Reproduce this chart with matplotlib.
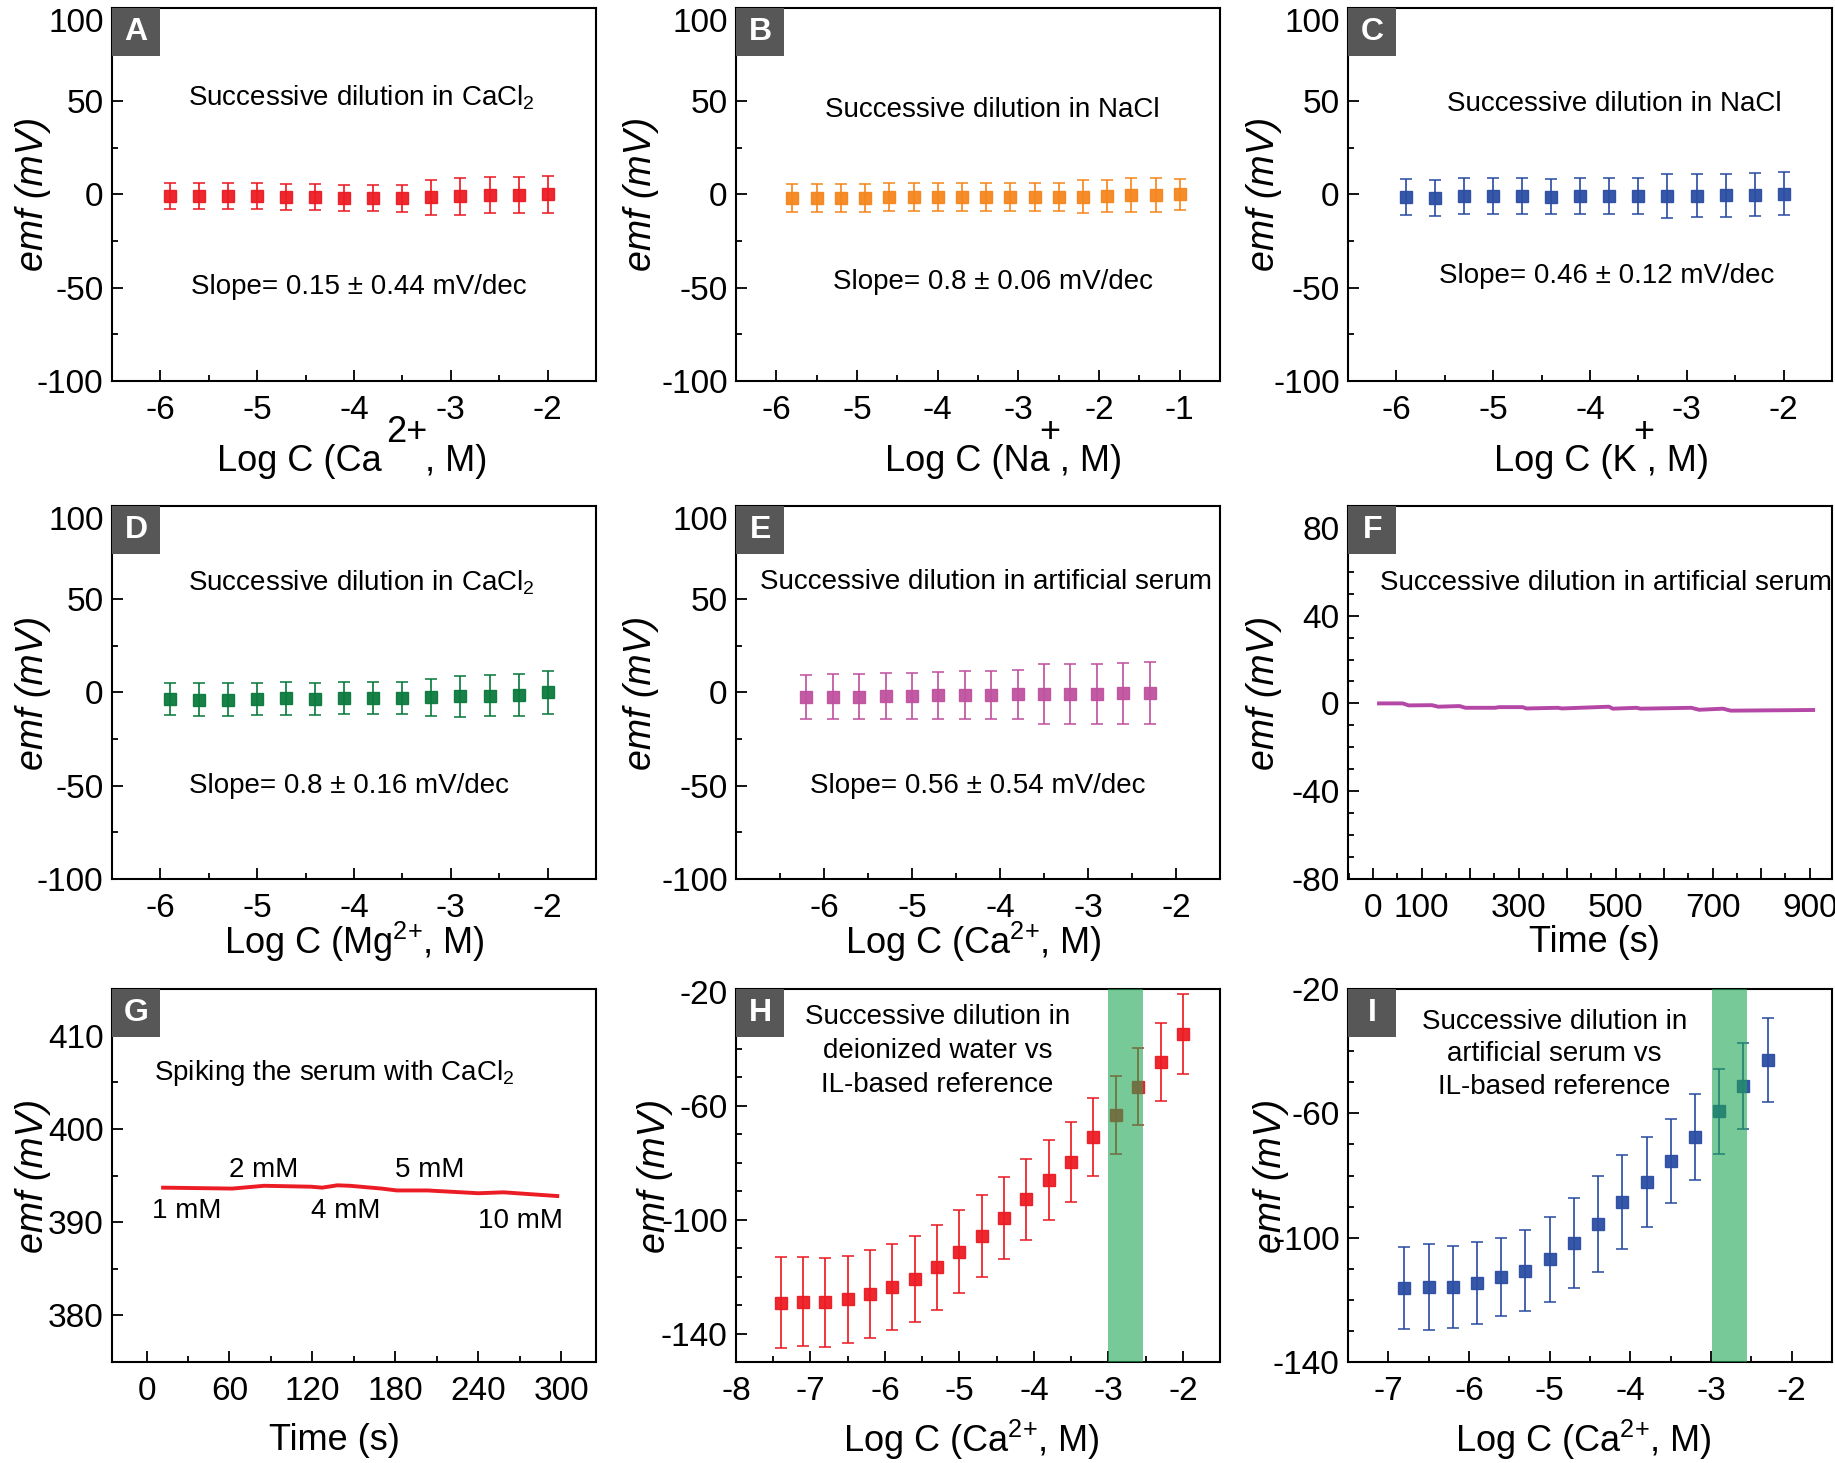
import matplotlib.pyplot as plt
from matplotlib.patches import Rectangle
from matplotlib.ticker import MultipleLocator

plt.rcParams['font.family'] = ['Liberation Sans', 'DejaVu Sans']
plt.rcParams['mathtext.fontset'] = 'custom'
plt.rcParams['mathtext.rm'] = 'Liberation Sans'
plt.rcParams['mathtext.it'] = 'Liberation Sans:italic'
plt.rcParams['mathtext.default'] = 'regular'
plt.rcParams['axes.unicode_minus'] = False
NOTE = 20  # size of the in-plot notes

# ---- data ----
A_x = [-5.9, -5.6, -5.3, -5.0, -4.7, -4.4, -4.1, -3.8, -3.5, -3.2, -2.9, -2.6, -2.3, -2.0]
A_y = [-0.9, -1.0, -1.0, -1.0, -1.2, -1.4, -1.8, -1.8, -2.0, -1.6, -1.1, -0.5, -0.4, 0.0]
A_err = [7.0, 7.0, 7.0, 7.0, 7.0, 7.2, 7.0, 7.0, 7.2, 9.5, 9.7, 9.7, 9.8, 9.8]

B_x = [-5.8, -5.5, -5.2, -4.9, -4.6, -4.3, -4.0, -3.7, -3.4, -3.1, -2.8, -2.5, -2.2, -1.9, -1.6, -1.3, -1.0]
B_y = [-1.8, -1.8, -1.8, -1.8, -1.4, -1.2, -1.4, -1.6, -1.2, -1.6, -1.6, -1.2, -1.2, -1.0, -0.4, -0.2, 0.0]
B_err = [7.5, 7.5, 7.5, 7.5, 7.5, 7.5, 7.5, 7.5, 7.5, 7.5, 7.5, 7.5, 9.0, 8.5, 9.0, 9.2, 8.3]

C_x = [-5.9, -5.6, -5.3, -5.0, -4.7, -4.4, -4.1, -3.8, -3.5, -3.2, -2.9, -2.6, -2.3, -2.0]
C_y = [-1.4, -1.8, -0.9, -0.9, -0.9, -1.2, -0.9, -0.9, -0.9, -0.9, -0.7, -0.5, -0.2, 0.3]
C_err = [9.5, 9.5, 9.5, 9.5, 9.5, 9.5, 9.5, 9.5, 9.5, 11.6, 11.6, 11.6, 11.5, 11.5]

D_x = [-5.9, -5.6, -5.3, -5.0, -4.7, -4.4, -4.1, -3.8, -3.5, -3.2, -2.9, -2.6, -2.3, -2.0]
D_y = [-3.6, -3.8, -3.9, -3.4, -3.2, -3.4, -3.0, -2.9, -3.0, -2.7, -2.0, -1.8, -1.3, 0.0]
D_err = [8.7, 8.7, 8.7, 8.7, 8.7, 8.7, 8.7, 8.7, 8.7, 9.9, 11.0, 11.0, 11.2, 11.4]

E_x = [-6.2, -5.9, -5.6, -5.3, -5.0, -4.7, -4.4, -4.1, -3.8, -3.5, -3.2, -2.9, -2.6, -2.3]
E_y = [-2.5, -2.3, -2.2, -2.0, -1.8, -1.6, -1.4, -1.3, -1.1, -0.9, -0.7, -0.7, -0.5, -0.2]
E_err = [12.0, 12.0, 12.2, 12.2, 12.4, 12.6, 12.8, 13.0, 13.2, 16.0, 16.0, 16.2, 16.3, 16.5]

F_t = [12, 61, 73, 121, 134, 178, 190, 251, 259, 308, 316, 381, 389, 486, 494, 543, 551, 656, 672, 721, 737, 907]
F_y = [0.0, 0.0, -0.9, -0.8, -1.5, -1.2, -2.0, -2.0, -1.7, -1.7, -2.3, -2.0, -2.3, -1.5, -2.4, -2.0, -2.4, -2.0, -2.9, -2.4, -3.3, -3.0]

G_t = [12, 62, 85, 119, 127, 138, 147, 170, 181, 203, 240, 258, 297]
G_y = [393.7, 393.6, 393.9, 393.8, 393.7, 393.95, 393.9, 393.6, 393.4, 393.4, 393.1, 393.2, 392.8]
G_notes = ['1 mM', '2 mM', '4 mM', '5 mM', '10 mM']
G_note_t = [29, 85, 144, 205, 270]
G_note_y = [391.2, 395.6, 391.2, 395.6, 390.1]

H_x = [-7.4, -7.1, -6.8, -6.5, -6.2, -5.9, -5.6, -5.3, -5.0, -4.7, -4.4, -4.1, -3.8, -3.5, -3.2, -2.9, -2.6, -2.3, -2.0]
H_y = [-129.1, -128.8, -129.0, -128.0, -126.1, -123.8, -120.9, -116.7, -111.2, -105.8, -99.4, -92.9,
       -86.2, -79.7, -71.0, -63.2, -53.3, -44.6, -34.7]
H_err = [15.9, 15.6, 15.7, 15.4, 15.3, 15.1, 15.0, 14.9, 14.7, 14.5, 14.4, 14.2, 14.0, 14.0, 13.8, 13.7, 13.5, 13.6, 14.0]
H_band = (-3.0, -2.53)

I_x = [-6.8, -6.5, -6.2, -5.9, -5.6, -5.3, -5.0, -4.7, -4.4, -4.1, -3.8, -3.5, -3.2, -2.9, -2.6, -2.3]
I_y = [-116.3, -115.8, -115.8, -114.6, -112.7, -110.6, -106.9, -101.6, -95.5, -88.5, -82.0, -75.3,
       -67.6, -59.4, -51.1, -42.8]
I_err = [13.2, 13.9, 13.1, 13.1, 12.5, 13.1, 13.7, 14.5, 15.4, 15.0, 14.4, 13.6, 13.8, 13.8, 13.8, 13.5]
I_band = (-2.99, -2.55)

RED = '#ec1c24'
ORANGE = '#f5871f'
BLUE = '#2c4ea3'
GREEN = '#0b7a3e'
MAGENTA = '#c0529f'
PURPLE = '#b548a6'
BAND = '#1fa653'

fig = plt.figure(figsize=(18.35, 14.63), dpi=100)
cols = [0.061, 0.4011, 0.7346]
rows = [0.7396, 0.3992, 0.069]
W = 0.2638
Hh = 0.255


def make_ax(r, c, letter, ylab_x):
    ax = fig.add_axes([cols[c], rows[r], W, Hh])
    for s in ax.spines.values():
        s.set_linewidth(1.5)
    ax.tick_params(which='both', direction='in', top=False, right=False, labelsize=24, width=1.3)
    ax.tick_params(which='major', length=8)
    ax.tick_params(which='minor', length=4)
    ax.tick_params(axis='x', pad=10)
    ax.tick_params(axis='y', pad=6)
    ax.add_patch(Rectangle((0, 1 - 0.13), 0.1, 0.13, transform=ax.transAxes,
                           facecolor='#575757', edgecolor='none', zorder=5, clip_on=False))
    ax.text(0.05, 1 - 0.065, letter, transform=ax.transAxes, ha='center', va='center',
            color='white', fontsize=23, fontweight='bold', zorder=6)
    ax.set_ylabel('emf (mV)', fontsize=27, style='italic', va='center')
    ax.yaxis.set_label_coords(ylab_x, 0.5)
    return ax


def xlabel(ax, text, x, y):
    ax.set_xlabel(text, fontsize=26, va='center')
    ax.xaxis.set_label_coords(x, y)


def note(ax, x, y, text, **kw):
    ax.text(x, y, text, transform=ax.get_yaxis_transform(), ha='center', va='center',
            fontsize=NOTE, **kw)


def points(ax, x, y, err, color):
    ax.errorbar(x, y, yerr=err, fmt='s', color=color, ms=8, mec=color,
                ecolor=color, elinewidth=1.3, capsize=4, capthick=1.2, alpha=0.95, zorder=3)


def dilution_axes(ax, xlim, xticks):
    ax.set_xlim(*xlim)
    ax.set_ylim(-100, 100)
    ax.set_xticks(xticks)
    ax.xaxis.set_minor_locator(MultipleLocator(0.5))
    ax.set_yticks([-100, -50, 0, 50, 100])
    ax.yaxis.set_minor_locator(MultipleLocator(25))
    # the top label sits just under the frame in the original
    ax.yaxis.get_major_ticks()[-1].label1.set_va('top')


# ---------- A ----------
ax = make_ax(0, 0, 'A', -0.163)
points(ax, A_x, A_y, A_err, RED)
dilution_axes(ax, (-6.5, -1.5), [-6, -5, -4, -3, -2])
note(ax, 0.516, 52, 'Successive dilution in CaCl$_2$')
note(ax, 0.51, -49.5, 'Slope= 0.15 ± 0.44 mV/dec')
ax.text(0.558, -0.217, 'Log C (Ca', transform=ax.transAxes, ha='right', va='center', fontsize=26)
ax.text(0.61, -0.137, '2+', transform=ax.transAxes, ha='center', va='center', fontsize=26)
ax.text(0.647, -0.217, ', M)', transform=ax.transAxes, ha='left', va='center', fontsize=26)

# ---------- B ----------
ax = make_ax(0, 1, 'B', -0.196)
points(ax, B_x, B_y, B_err, ORANGE)
dilution_axes(ax, (-6.5, -0.5), [-6, -5, -4, -3, -2, -1])
note(ax, 0.53, 45, 'Successive dilution in NaCl')
note(ax, 0.53, -47, 'Slope= 0.8 ± 0.06 mV/dec')
ax.text(0.552, -0.217, 'Log C (Na , M)', transform=ax.transAxes, ha='center', va='center', fontsize=26)
ax.text(0.649, -0.137, '+', transform=ax.transAxes, ha='center', va='center', fontsize=26)

# ---------- C ----------
ax = make_ax(0, 2, 'C', -0.174)
points(ax, C_x, C_y, C_err, BLUE)
dilution_axes(ax, (-6.5, -1.5), [-6, -5, -4, -3, -2])
note(ax, 0.55, 48.7, 'Successive dilution in NaCl')
note(ax, 0.535, -43.6, 'Slope= 0.46 ± 0.12 mV/dec')
ax.text(0.523, -0.217, 'Log C (K , M)', transform=ax.transAxes, ha='center', va='center', fontsize=26)
ax.text(0.61, -0.137, '+', transform=ax.transAxes, ha='center', va='center', fontsize=26)

# ---------- D ----------
ax = make_ax(1, 0, 'D', -0.163)
points(ax, D_x, D_y, D_err, GREEN)
dilution_axes(ax, (-6.5, -1.5), [-6, -5, -4, -3, -2])
note(ax, 0.516, 59, 'Successive dilution in CaCl$_2$')
note(ax, 0.49, -50, 'Slope= 0.8 ± 0.16 mV/dec')
xlabel(ax, 'Log C (Mg$^{2{+}}$, M)', 0.5, -0.17)

# ---------- E ----------
ax = make_ax(1, 1, 'E', -0.196)
points(ax, E_x, E_y, E_err, MAGENTA)
dilution_axes(ax, (-7.0, -1.5), [-6, -5, -4, -3, -2])
note(ax, 0.517, 59, 'Successive dilution in artificial serum')
note(ax, 0.50, -50, 'Slope= 0.56 ± 0.54 mV/dec')
xlabel(ax, 'Log C (Ca$^{2{+}}$, M)', 0.49, -0.17)

# ---------- F ----------
ax = make_ax(1, 2, 'F', -0.174)
ax.plot(F_t, F_y, color=PURPLE, lw=2.8)
ax.set_xlim(-52, 946)
ax.set_ylim(-80, 90)
ax.set_xticks([0, 100, 200, 300, 400, 500, 600, 700, 800, 900])
ax.set_xticklabels(['0', '100', '', '300', '', '500', '', '700', '', '900'])
ax.xaxis.set_minor_locator(MultipleLocator(50))
ax.set_yticks([-80, -40, 0, 40, 80])
ax.yaxis.set_minor_locator(MultipleLocator(10))
note(ax, 0.533, 54.7, 'Successive dilution in artificial serum')
xlabel(ax, 'Time (s)', 0.51, -0.17)

# ---------- G ----------
ax = make_ax(2, 0, 'G', -0.163)
ax.plot(G_t, G_y, color=RED, lw=2.8)
ax.set_xlim(-25, 325)
ax.set_ylim(375, 415)
ax.set_xticks([0, 60, 120, 180, 240, 300])
ax.xaxis.set_minor_locator(MultipleLocator(30))
ax.set_yticks([380, 390, 400, 410])
ax.yaxis.set_minor_locator(MultipleLocator(5))
note(ax, 0.46, 406, 'Spiking the serum with CaCl$_2$')
for lab, t, v in zip(G_notes, G_note_t, G_note_y):
    ax.text(t, v, lab, ha='center', va='center', fontsize=NOTE)
xlabel(ax, 'Time (s)', 0.46, -0.21)

# ---------- H ----------
ax = make_ax(2, 1, 'H', -0.167)
points(ax, H_x, H_y, H_err, RED)
ax.axvspan(*H_band, color=BAND, alpha=0.6, lw=0, zorder=4)
ax.set_xlim(-8, -1.5)
ax.set_ylim(-150, -19)
ax.set_xticks([-8, -7, -6, -5, -4, -3, -2])
ax.xaxis.set_minor_locator(MultipleLocator(0.5))
ax.set_yticks([-140, -100, -60, -20])
ax.yaxis.set_minor_locator(MultipleLocator(10))
note(ax, 0.416, -40.8, 'Successive dilution in\ndeionized water vs\nIL-based reference', linespacing=1.4)
xlabel(ax, 'Log C (Ca$^{2{+}}$, M)', 0.486, -0.21)

# ---------- I ----------
ax = make_ax(2, 2, 'I', -0.16)
points(ax, I_x, I_y, I_err, BLUE)
ax.axvspan(*I_band, color=BAND, alpha=0.6, lw=0, zorder=4)
ax.set_xlim(-7.5, -1.5)
ax.set_ylim(-140, -20)
ax.set_xticks([-7, -6, -5, -4, -3, -2])
ax.xaxis.set_minor_locator(MultipleLocator(0.5))
ax.set_yticks([-140, -100, -60, -20])
ax.yaxis.set_minor_locator(MultipleLocator(10))
note(ax, 0.426, -41, 'Successive dilution in\nartificial serum vs\nIL-based reference', linespacing=1.32)
xlabel(ax, 'Log C (Ca$^{2{+}}$, M)', 0.487, -0.21)

fig.savefig('out.png', dpi=100)
